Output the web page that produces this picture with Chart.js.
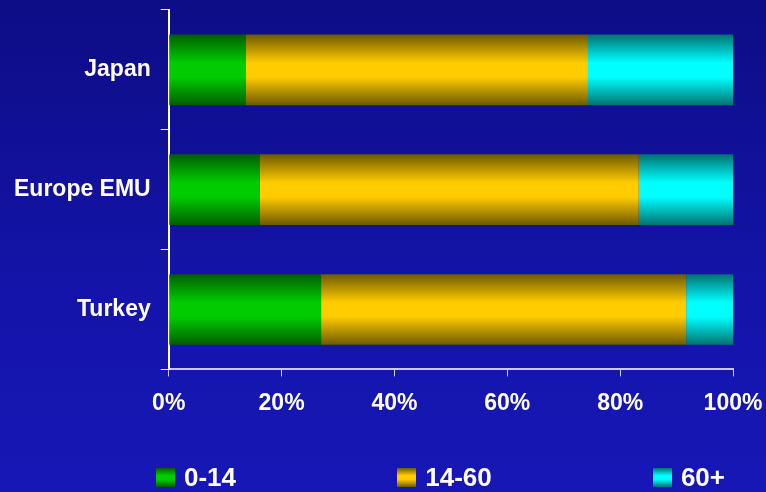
<!DOCTYPE html>
<html>
<head>
<meta charset="utf-8">
<script src="https://cdn.jsdelivr.net/npm/chart.js@4"></script>
<style>
  html, body { margin: 0; padding: 0; }
  body {
    width: 766px; height: 492px; overflow: hidden; position: relative;
    background: linear-gradient(to bottom, #0d0d86 0%, #1414aa 60%, #1717b6 100%);
    font-family: 'Liberation Sans', Arial, sans-serif;
  }
  #wrap { position: absolute; left: 0; top: 0; width: 766px; height: 492px; }
  #legend {
    position: absolute; left: 156px; width: 569px; top: 463px; height: 28px;
    display: flex; justify-content: space-between; align-items: center;
  }
  .item { display: flex; align-items: center; color: #fff; font-weight: bold; font-size: 26px; }
  .box { width: 19px; height: 19px; margin-right: 9px; }
</style>
</head>
<body>
<div id="wrap"><canvas id="chart"></canvas></div>
<div id="legend"></div>
<script>
// Datos (porcentaje de población por grupo de edad)
const paises = ['Japan', 'Europe EMU', 'Turkey'];
const grupos = ['0-14', '14-60', '60+'];
const edad0a14 = [13.6, 16.1, 27.0];
const edad14a60 = [60.7, 67.2, 64.7];
const edad60mas = [25.7, 16.7, 8.3];
const ticksX = [0, 20, 40, 60, 80, 100];

// colores: borde oscuro / centro brillante
const colores = [
  ['#005e00', '#00cc00'],
  ['#6e5a00', '#ffcc00'],
  ['#007272', '#00ffff']
];

const barPct = 0.59;

function degradado(ctx, par) {
  const chart = ctx.chart;
  const y = chart.scales.y;
  if (!chart.chartArea || !y) return par[1];
  const c = y.getPixelForValue(ctx.dataIndex);
  const banda = Math.abs(y.getPixelForValue(1) - y.getPixelForValue(0));
  const h = banda * barPct;
  const g = chart.ctx.createLinearGradient(0, c - h / 2, 0, c + h / 2);
  g.addColorStop(0, par[0]);
  g.addColorStop(0.4, par[1]);
  g.addColorStop(0.6, par[1]);
  g.addColorStop(1, par[0]);
  return g;
}

const series = [edad0a14, edad14a60, edad60mas];

const data = {
  labels: paises,
  datasets: series.map((valores, i) => ({
    label: grupos[i],
    data: valores,
    backgroundColor: ctx => degradado(ctx, colores[i]),
    borderWidth: 0,
    barPercentage: barPct,
    categoryPercentage: 1
  }))
};

const fuente = { family: "'Liberation Sans', Arial, sans-serif", weight: 'bold', size: 23 };

// quitar el relleno automático de las etiquetas extremas
const sinRelleno = s => { s.paddingTop = 0; s.paddingBottom = 0; s.paddingLeft = 0; s.paddingRight = 0; };

const options = {
  indexAxis: 'y',
  responsive: false,
  animation: false,
  layout: { padding: { top: 10, right: 33, bottom: 62, left: 4 } },
  plugins: { legend: { display: false }, tooltip: { enabled: false } },
  scales: {
    x: {
      stacked: true,
      min: 0,
      max: 100,
      afterBuildTicks: axis => { axis.ticks = ticksX.map(v => ({ value: v })); },
      afterFit: sinRelleno,
      ticks: { color: '#fff', font: fuente, padding: 13, callback: v => v + '%' },
      grid: { drawOnChartArea: false, tickLength: 7, color: '#d0d0f4' },
      border: { color: '#c8c8f0', width: 2 }
    },
    y: {
      stacked: true,
      afterFit: sinRelleno,
      ticks: { color: '#fff', font: fuente, padding: 10 },
      grid: { drawOnChartArea: false, tickLength: 8, color: '#e8e8ff', offset: true },
      border: { color: '#ffffff', width: 2 }
    }
  }
};

const canvas = document.getElementById('chart');
canvas.width = 766;
canvas.height = 492;
const myChart = new Chart(canvas.getContext('2d'), { type: 'bar', data: data, options: options });

// leyenda en HTML
const leyenda = document.getElementById('legend');
grupos.forEach((g, i) => {
  const item = document.createElement('div');
  item.className = 'item';
  const caja = document.createElement('div');
  caja.className = 'box';
  caja.style.background = `linear-gradient(to bottom, ${colores[i][0]}, ${colores[i][1]} 40%, ${colores[i][1]} 60%, ${colores[i][0]})`;
  const txt = document.createElement('span');
  txt.textContent = g;
  item.appendChild(caja);
  item.appendChild(txt);
  leyenda.appendChild(item);
});
</script>
</body>
</html>
